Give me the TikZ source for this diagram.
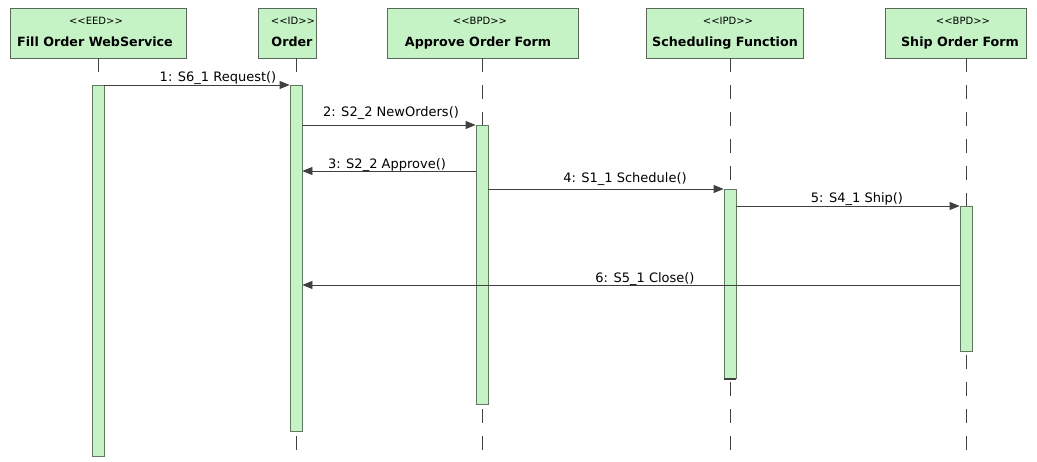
\documentclass[tikz,border=0pt]{standalone}
\usepackage{fontspec}
\setmainfont{DejaVu Sans}
\usetikzlibrary{arrows.meta}
\definecolor{boxfill}{RGB}{198,243,198}
\definecolor{boxline}{RGB}{90,104,90}
\definecolor{actline}{RGB}{95,120,95}
\definecolor{lineclr}{RGB}{64,64,64}
\newcommand{\stype}[1]{{<}{<}#1{>}{>}}
\begin{document}
\begin{tikzpicture}[x=1pt,y=-1pt,
  objbox/.style={draw=boxline, fill=boxfill, line width=0.9pt, minimum height=50pt, inner sep=0pt},
  actbar/.style={draw=actline, fill=boxfill, line width=0.8pt, minimum width=12pt, inner sep=0pt, anchor=north},
  lifeline/.style={draw=lineclr, line width=0.8pt, dash pattern=on 14pt off 13pt},
  msg/.style={draw=lineclr, line width=0.8pt, -{Triangle[length=10pt,width=8pt]}},
  msglabel/.style={anchor=base, inner sep=0pt, font=\fontsize{13}{15}\selectfont},
  stereo/.style={anchor=base, inner sep=0pt, font=\fontsize{10}{12}\selectfont},
  objname/.style={anchor=base, inner sep=0pt, font=\fontsize{12.7}{15}\selectfont\bfseries}]
  \useasboundingbox[fill=white] (0,0) rectangle (1037,462);

  % object boxes
  \node[objbox, minimum width=176pt] (o1) at (98,33) {};
  \node[objbox, minimum width=58pt]  (o2) at (287,33) {};
  \node[objbox, minimum width=191pt] (o3) at (482.5,33) {};
  \node[objbox, minimum width=157pt] (o4) at (724.5,33) {};
  \node[objbox, minimum width=141pt] (o5) at (955.5,33) {};

  \node[stereo] (s1) at (96,25) {\stype{EED}};
  \node[objname] (n1) at (95,46.5) {Fill Order WebService};
  \node[stereo] (s2) at (293,25) {\stype{ID}};
  \node[objname] (n2) at (292,46.5) {Order};
  \node[stereo] (s3) at (480,25) {\stype{BPD}};
  \node[objname] (n3) at (478,46.5) {Approve Order Form};
  \node[stereo] (s4) at (728,25) {\stype{IPD}};
  \node[objname] (n4) at (725,46.5) {Scheduling Function};
  \node[stereo] (s5) at (963,25) {\stype{BPD}};
  \node[objname] (n5) at (960,46.5) {Ship Order Form};

  % lifeline ends
  \coordinate (e1) at (98,462);
  \coordinate (e2) at (296,462);
  \coordinate (e3) at (482,462);
  \coordinate (e4) at (730,462);
  \coordinate (e5) at (966,462);
  \draw[lifeline] (e1 |- o1.south) -- (e1);
  \draw[lifeline] (e2 |- o2.south) -- (e2);
  \draw[lifeline] (e3 |- o3.south) -- (e3);
  \draw[lifeline] (e4 |- o4.south) -- (e4);
  \draw[lifeline] (e5 |- o5.south) -- (e5);

  % activation bars
  \node[actbar, minimum height=371pt] (a1) at (98,85) {};
  \node[actbar, minimum height=346pt] (a2) at (296,85) {};
  \node[actbar, minimum height=279pt] (a3) at (482,125) {};
  \node[actbar, minimum height=189pt] (a4) at (730,189) {};
  \node[actbar, minimum height=145pt] (a5) at (966,206) {};
  \draw[lineclr, line width=2pt] ([xshift=0.4pt]a4.south west) -- ([xshift=-0.4pt]a4.south east);

  % messages
  \coordinate (m3) at (0,171);
  \coordinate (m6) at (0,285);
  \draw[msg] (a1.north east) -- (a2.north west);
  \draw[msg] (a2.east |- a3.north) -- (a3.north west);
  \draw[msg] (a3.west |- m3) -- (a2.east |- m3);
  \draw[msg] (a3.east |- a4.north) -- (a4.north west);
  \draw[msg] (a4.east |- a5.north) -- (a5.north west);
  \draw[msg] (a5.west |- m6) -- (a2.east |- m6);

  \node[msglabel] (l1) at (218,82) {1: S6\_1 Request()};
  \node[msglabel] (l2) at (391,117) {2: S2\_2 NewOrders()};
  \node[msglabel] (l3) at (387,169) {3: S2\_2 Approve()};
  \node[msglabel] (l4) at (625,183) {4: S1\_1 Schedule()};
  \node[msglabel] (l5) at (857,203) {5: S4\_1 Ship()};
  \node[msglabel] (l6) at (645,283) {6: S5\_1 Close()};
\end{tikzpicture}
\end{document}
